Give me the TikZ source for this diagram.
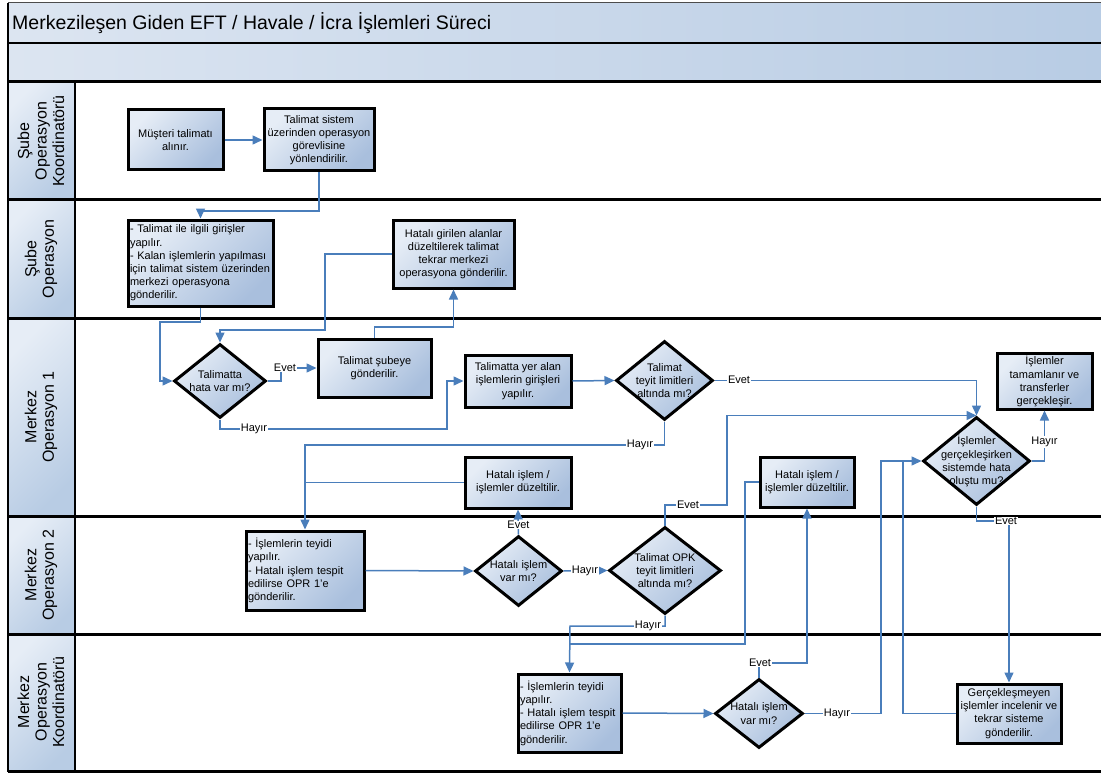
\documentclass[tikz,border=0pt]{standalone}
\usepackage{fontspec}
\setmainfont{Liberation Sans}
\usetikzlibrary{shapes.geometric,arrows.meta}
\definecolor{conncol}{HTML}{4A7EBB}
\definecolor{boxlight}{HTML}{E6EDF6}
\definecolor{boxdark}{HTML}{A9BFDD}
\definecolor{hdrlight}{HTML}{DCE5F1}
\definecolor{hdrdark}{HTML}{B8CCE4}
\begin{document}
\begin{tikzpicture}[x=1pt,y=-1pt,
  boxfont/.style={font=\fontsize{11}{13.2}\selectfont},
  pbox/.style={draw=black, line width=3pt, top color=boxlight, bottom color=boxdark, shading angle=45, align=center, boxfont, inner sep=1pt},
  lbox/.style={pbox, align=left, text width=#1, inner xsep=2pt},
  dec/.style={diamond, draw=black, line width=3pt, top color=boxlight, bottom color=boxdark, shading angle=45, inner sep=0pt},
  dtext/.style={align=center, boxfont, inner sep=0pt},
  conn/.style={draw=conncol, line width=1.5pt, -{Triangle[length=10pt,width=9pt]}},
  joint/.style={draw=conncol, line width=1.5pt},
  lab/.style={fill=white, inner sep=0.6pt, boxfont},
  lanelab/.style={rotate=90, align=center, font=\fontsize{16}{17.5}\selectfont},
  sep/.style={line width=3pt, black}
]
\useasboundingbox (0,0) rectangle (1101,773);
% ---- header bands
\fill[left color=hdrlight, right color=hdrdark] (8,3) rectangle (1101,43);
\fill[left color=hdrlight, right color=hdrdark] (8,43) rectangle (1101,82);
% ---- lane label cells
\foreach \a/\b in {82/200,200/318,318/516,516/634,634/771}
  \fill[top color=boxlight, bottom color=hdrdark, shading angle=45] (8,\a) rectangle (75,\b);
% ---- frame lines
\draw[gray!60!black, line width=1pt] (8,3) -- (1101,3);
\draw[line width=2.5pt] (8,43) -- (1101,43);
\draw[sep] (8,82) -- (1101,82);
\foreach \y in {200,318,516,634,771} \draw[sep] (8,\y) -- (1101,\y);
\draw[line width=2.5pt] (75,82) -- (75,771);
\draw[line width=2pt] (8,3) -- (8,772);
% ---- title
\node[anchor=west, inner sep=0pt, font=\fontsize{19.5}{22}\selectfont] (title) at (12,23) {Merkezileşen Giden EFT / Havale / İcra İşlemleri Süreci};
% ---- lane labels
\node[lanelab] (ln1) at (41,141) {Şube\\Operasyon\\Koordinatörü};
\node[lanelab] (ln2) at (41,259) {Şube\\Operasyon};
\node[lanelab] (ln3) at (41,417) {Merkez\\Operasyon 1};
\node[lanelab] (ln4) at (41,575) {Merkez\\Operasyon 2};
\node[lanelab] (ln5) at (41,702) {Merkez\\Operasyon\\Koordinatörü};
% ---- process boxes
\node[pbox, minimum width=95pt, minimum height=60pt] (b1) at (175.5,140) {Müşteri talimatı\\alınır.};
\node[pbox, minimum width=110pt, minimum height=62pt] (b2) at (319,140) {Talimat sistem\\üzerinden operasyon\\görevlisine\\yönlendirilir.};
\node[lbox=141pt, minimum height=86pt] (b3) at (200.5,263) {- Talimat ile ilgili girişler\\yapılır.\\- Kalan işlemlerin yapılması\\için talimat sistem üzerinden\\merkezi operasyona\\gönderilir.};
\node[pbox, minimum width=121pt, minimum height=68pt] (b4) at (453.5,254) {Hatalı girilen alanlar\\düzeltilerek talimat\\tekrar merkezi\\operasyona gönderilir.};
\node[pbox, minimum width=113pt, minimum height=58pt] (b5) at (374.5,368) {Talimat şubeye\\gönderilir.};
\node[pbox, minimum width=106pt, minimum height=52pt] (b6) at (518,381) {Talimatta yer alan\\işlemlerin girişleri\\yapılır.};
\node[pbox, minimum width=95pt, minimum height=56pt] (b12) at (1044.5,381) {İşlemler\\tamamlanır ve\\transferler\\gerçekleşir.};
\node[pbox, minimum width=106pt, minimum height=51pt] (b8) at (518,482.5) {Hatalı işlem /\\işlemler düzeltilir.};
\node[lbox=114pt, minimum height=79pt] (b7) at (305,570.5) {- İşlemlerin teyidi\\yapılır.\\- Hatalı işlem tespit\\edilirse OPR 1'e\\gönderilir.};
\node[pbox, minimum width=94pt, minimum height=50pt] (b10) at (807,482) {Hatalı işlem /\\işlemler düzeltilir.};
\node[lbox=99pt, minimum height=78pt] (b9) at (569.5,713) {- İşlemlerin teyidi\\yapılır.\\- Hatalı işlem tespit\\edilirse OPR 1'e\\gönderilir.};
\node[pbox, minimum width=104pt, minimum height=59pt] (b11) at (1009,713.5) {Gerçekleşmeyen\\işlemler incelenir ve\\tekrar sisteme\\gönderilir.};
% ---- decisions
\node[dec, minimum width=92pt, minimum height=74pt] (d1) at (220,381) {};
\node[dtext] (d1t) at (d1) {Talimatta\\hata var mı?};
\node[dec, minimum width=97pt, minimum height=79pt] (d2) at (664.5,380.5) {};
\node[dtext] (d2t) at (d2) {Talimat\\teyit limitleri\\altında mı?};
\node[dec, minimum width=107pt, minimum height=88pt] (d3) at (976.5,461) {};
\node[dtext] (d3t) at (d3) {İşlemler\\gerçekleşirken\\sistemde hata\\oluştu mu?};
\node[dec, minimum width=87pt, minimum height=70pt] (d5) at (518.5,571) {};
\node[dtext] (d5t) at (d5) {Hatalı işlem\\var mı?};
\node[dec, minimum width=112pt, minimum height=87pt] (d4) at (665,570.5) {};
\node[dtext] (d4t) at (d4) {Talimat OPK\\teyit limitleri\\altında mı?};
\node[dec, minimum width=88pt, minimum height=69pt] (d6) at (759,713.5) {};
\node[dtext] (d6t) at (d6) {Hatalı işlem\\var mı?};
% ---- connectors
\draw[conn] (b1.east) -- (b2.west |- b1.east);
\draw[conn] (b2.south) |- (200.5,211) -- (b3.north);
\draw[conn] (b3.south) -- (200.5,322) -- (160,322) |- (d1.west);
\draw[conn] (d1.east) -- (281,381) |- (b5.west);
\draw[conn] (b5.north) |- (453.5,327) -- (b4.south);
\draw[conn] (b4.west) -- (325,254) -- (325,330) -| (d1.north);
\draw[conn] (d1.south) |- (447,429) |- (b6.west);
\draw[conn] (b6.east) -- (d2.west);
\draw[conn] (d2.east) -| (d3.north);
\draw[conn] (d2.south) |- (305,445) -- (b7.north);
\draw[joint] (b8.west) -- (305,482.5);
\draw[conn] (b7.east) -- (d5.west);
\draw[conn] (d5.north) -- (b8.south);
\draw[conn] (d5.east) -- (d4.west);
\draw[conn] (d4.north) |- (727,505) |- (d3.north);
\draw[conn] (d4.south) |- (570,626) -- (b9.north);
\draw[joint] (b10.west) -- (745,482) |- (570,644);
\draw[conn] (b9.east) -- (d6.west);
\draw[conn] (d6.north) |- (807,663) -- (b10.south);
\draw[conn] (d6.east) -- (881,713.5) |- (d3.west);
\draw[joint] (b11.west) -- (903,713.5) -- (903,461);
\draw[conn] (d3.south) |- (1009,521) -- (b11.north);
\draw[conn] (d3.east) -| (b12.south);
% ---- connector labels
\node[lab] (l1) at (285,368) {Evet};
\node[lab] (l2) at (254,429) {Hayır};
\node[lab] (l3) at (739,380) {Evet};
\node[lab] (l4) at (640,445) {Hayır};
\node[lab] (l5) at (518.5,525) {Evet};
\node[lab] (l6) at (585,571) {Hayır};
\node[lab] (l7) at (688,505) {Evet};
\node[lab] (l8) at (648,626) {Hayır};
\node[lab] (l9) at (760,663) {Evet};
\node[lab] (l10) at (837,713.5) {Hayır};
\node[lab] (l11) at (1006,521) {Evet};
\node[lab] (l12) at (1044.5,442) {Hayır};
\end{tikzpicture}
\end{document}
